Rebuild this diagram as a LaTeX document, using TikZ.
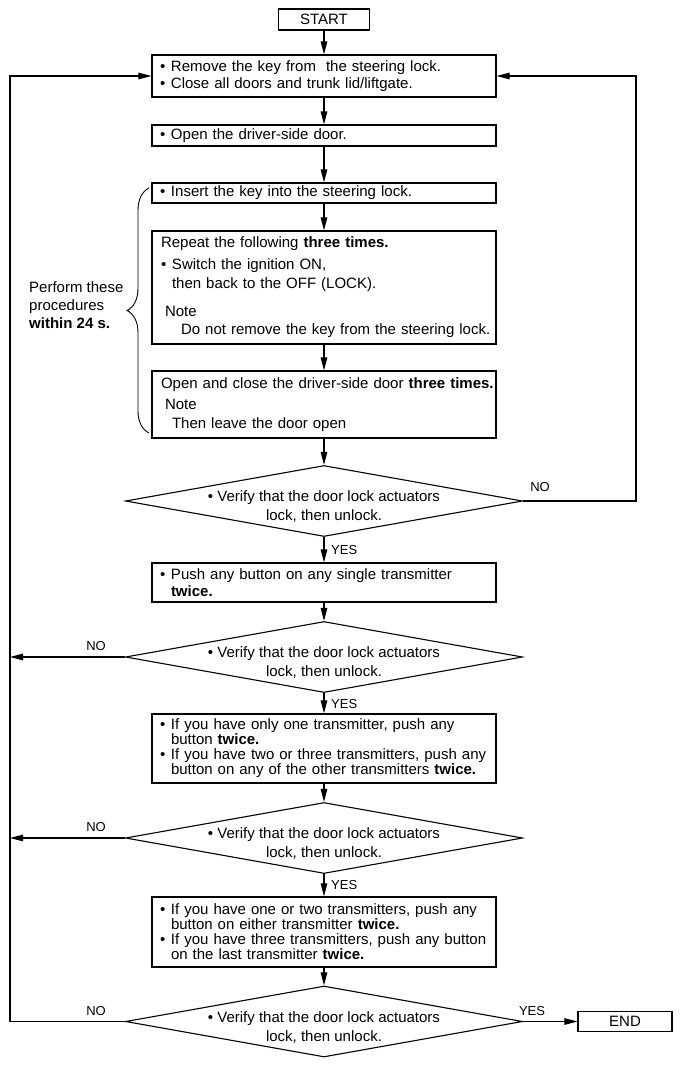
\documentclass[tikz,border=0pt]{standalone}
\usepackage{fontspec}
\setmainfont{Liberation Sans}
\usetikzlibrary{arrows.meta,shapes.geometric,decorations.pathreplacing}
\newcommand\bu{\makebox[11pt][l]{•}}
\newcommand\ind{\hspace*{11pt}}
\begin{document}
\begin{tikzpicture}[x=1pt,y=-1pt,
  every node/.style={font=\fontsize{15}{15}\selectfont},
  box/.style={draw, line width=1.1pt, minimum width=344pt, text width=328pt, inner xsep=8pt, inner ysep=0pt, align=left},
  dia/.style={draw, line width=1.1pt, diamond, minimum width=397pt, minimum height=71pt, inner sep=0pt},
  dtext/.style={align=center, inner sep=0pt, font=\fontsize{15}{19}\selectfont},
  arr/.style={line width=1.1pt, -{Triangle[length=13pt,width=6.5pt]}},
  lbl/.style={font=\fontsize{13}{13}\selectfont, inner sep=0pt}
]
\useasboundingbox (0,0) rectangle (685,1067);

\node[draw, line width=1.1pt, minimum width=91pt, minimum height=21pt, inner sep=0pt] (start) at (324,19.5) {START};

\node[box, minimum height=42pt] (b1) at (324,76) {\mbox{\bu Remove the key from\ \ the steering lock.}\\[2pt]\mbox{\bu Close all doors and trunk lid/liftgate.}};
\node[box, minimum height=21pt] (b2) at (324,135.5) {\bu Open the driver-side door.};
\node[box, minimum height=20pt] (b3) at (324,193) {\bu Insert the key into the steering lock.};
\node[box, minimum height=113pt] (b4) at (324,287.5) {\mbox{\hspace*{1pt}Repeat the following \textbf{three times.}}\\[7pt]
  \mbox{\hspace*{1pt}\bu Switch the ignition ON,}\\[4pt]
  \mbox{\hspace*{1pt}\ind then back to the OFF (LOCK).}\\[13pt]
  \mbox{\hspace*{5pt}Note}\\[3pt]
  \mbox{\hspace*{21pt}Do not remove the key from the steering lock.}};
\node[box, minimum height=67pt] (b5) at (324,404.5) {\mbox{\hspace*{1pt}Open and close the driver-side door \textbf{three times.}}\\[6pt]
  \mbox{\hspace*{5pt}Note}\\[4pt]
  \mbox{\hspace*{12pt}Then leave the door open}};

\node[dia] (d1) at (324,501) {};
\node[dtext] (t1) at ([yshift=-6pt]d1.center) {• Verify that the door lock actuators\\lock, then unlock.};

\node[box, minimum height=39pt] (b6) at (324,582.5) {\mbox{\bu Push any button on any single transmitter}\\[2pt]\ind\textbf{twice.}};

\node[dia] (d2) at (324,657) {};
\node[dtext] (t2) at ([yshift=-6pt]d2.center) {• Verify that the door lock actuators\\lock, then unlock.};

\node[box, minimum height=69pt] (b7) at (324,748.5) {\mbox{\bu If you have only one transmitter, push any}\\
  \mbox{\ind button \textbf{twice.}}\\
  \mbox{\bu If you have two or three transmitters, push any}\\
  \mbox{\ind button on any of the other transmitters \textbf{twice.}}};

\node[dia] (d3) at (324,838) {};
\node[dtext] (t3) at ([yshift=-6pt]d3.center) {• Verify that the door lock actuators\\lock, then unlock.};

\node[box, minimum height=70pt] (b8) at (324,932) {\mbox{\bu If you have one or two transmitters, push any}\\
  \mbox{\ind button on either transmitter \textbf{twice.}}\\
  \mbox{\bu If you have three transmitters, push any button}\\
  \mbox{\ind on the last transmitter \textbf{twice.}}};

\node[dia] (d4) at (324,1021.5) {};
\node[dtext] (t4) at ([yshift=-6pt]d4.center) {• Verify that the door lock actuators\\lock, then unlock.};

\node[draw, line width=1.1pt, minimum width=94pt, minimum height=20pt, inner sep=0pt] (end) at (625,1021.5) {END};

% brace and its text
\draw[line width=0.9pt, decorate, decoration={brace, amplitude=22pt}] (149,433) -- (149,188);
\node[anchor=west, align=left, inner sep=0pt, font=\fontsize{15}{18}\selectfont] (bt) at (29,305) {Perform these\\procedures\\\textbf{within 24 s.}};

% main flow
\draw[arr] (start.south) -- (b1.north);
\draw[arr] (b1.south) -- (b2.north);
\draw[arr] (b2.south) -- (b3.north);
\draw[arr] (b3.south) -- (b4.north);
\draw[arr] (b4.south) -- (b5.north);
\draw[arr] (b5.south) -- (d1.north);
\draw[arr] (d1.south) -- (b6.north);
\draw[arr] (b6.south) -- (d2.north);
\draw[arr] (d2.south) -- (b7.north);
\draw[arr] (b7.south) -- (d3.north);
\draw[arr] (d3.south) -- (b8.north);
\draw[arr] (b8.south) -- (d4.north);
\draw[arr] (d4.east) -- (end.west);

% loops
\coordinate (lft) at (10,0);
\coordinate (rgt) at (636,0);
\draw[arr] (d1.east) -- (d1.east -| rgt) |- (b1.east);
\draw[arr] (d2.west) -- (d2.west -| lft);
\draw[arr] (d3.west) -- (d3.west -| lft);
\draw[arr] (d4.west) -- (d4.west -| lft) |- (b1.west);

% labels
\node[lbl] (n1) at (540,487) {NO};
\node[lbl] (n2) at (96,646) {NO};
\node[lbl] (n3) at (96,827) {NO};
\node[lbl] (n4) at (96,1011) {NO};
\node[lbl, anchor=west] (y1) at (331,550) {YES};
\node[lbl, anchor=west] (y2) at (331,704) {YES};
\node[lbl, anchor=west] (y3) at (331,885) {YES};
\node[lbl] (y4) at (532,1011) {YES};
\end{tikzpicture}
\end{document}
